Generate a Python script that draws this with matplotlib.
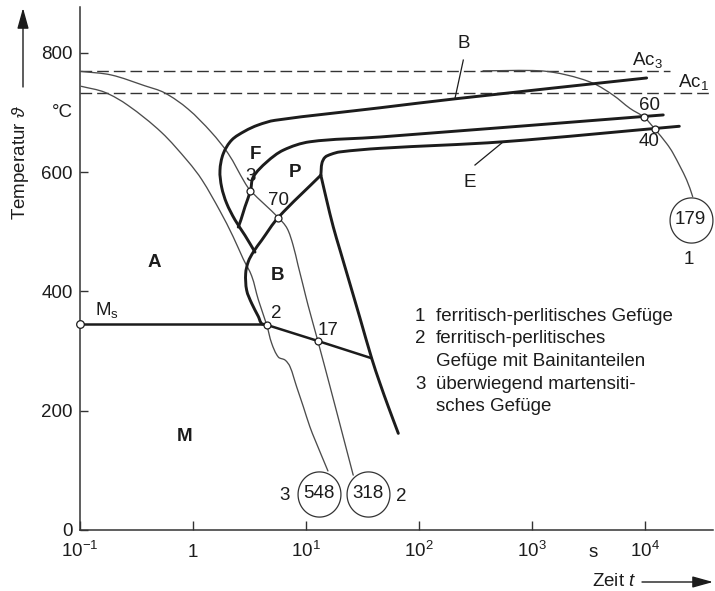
import numpy as np
import matplotlib
matplotlib.use("Agg")
import matplotlib.pyplot as plt
from matplotlib.path import Path
from matplotlib.patches import PathPatch

plt.rcParams["font.family"] = ["Liberation Sans", "DejaVu Sans"]
plt.rcParams["mathtext.fontset"] = "custom"
plt.rcParams["mathtext.rm"] = "Liberation Sans"
plt.rcParams["mathtext.it"] = "Liberation Sans:italic"
plt.rcParams["mathtext.bf"] = "Liberation Sans:bold"
plt.rcParams["font.size"] = 13.5

INK = "#1c1c1c"
THIN = "#4c4c4c"

# Critical temperatures (°C)
ac3_temp = 770
ac1_temp = 732
ms_temp = 345

# Cooling curves: time (s) and temperature (°C)
cool1_time = [367, 1171, 2017, 3467, 5212, 7321, 9797, 12180, 15460, 17580, 23230, 26260]
cool1_temp = [770, 770, 763, 749, 729, 707, 692, 672, 648, 632, 587, 559]

cool2_time = [0.1027, 0.189, 0.373, 0.561, 0.902, 1.45, 2.05, 2.86, 3.22, 5.67,
              6.78, 7.66, 8.48, 9.38, 10.4, 12.7, 16.3, 21.3, 26.1]
cool2_temp = [769, 763, 745, 733, 706, 667, 631, 583, 569, 524,
              506, 478, 444, 411, 377, 317, 240, 156, 92]

cool3_time = [0.1027, 0.1654, 0.266, 0.524, 0.902, 1.20, 1.73, 2.26, 2.77, 3.30, 3.78,
              4.48, 4.96, 5.68, 6.51, 7.20, 8.25, 9.44, 10.8, 12.0, 15.6]
cool3_temp = [744, 734, 712, 667, 618, 587, 535, 492, 455, 426, 386,
              344, 313, 290, 285, 274, 240, 207, 173, 151, 99]

# Transformation lines: time (s) and temperature (°C)
ferrite_start_time = [10280, 207.5, 45.0, 5.31, 3.75, 2.88, 2.20, 1.85, 1.73, 1.79, 1.98, 2.35, 2.88, 3.53]
ferrite_start_temp = [758, 723, 708, 687, 679, 669, 654, 631, 603, 575, 548, 520, 494, 466]

pearlite_start_time = [14420, 45.0, 10.8, 6.29, 4.48, 3.41, 3.22, 2.88, 2.65, 2.51]
pearlite_start_temp = [696, 659, 651, 637, 617, 592, 569, 542, 520, 508]

pearlite_end_time = [20000, 551, 45.0, 19.9, 16.6, 14.7, 13.8, 13.5]
pearlite_end_temp = [677, 651, 640, 634, 630, 625, 615, 595]

bainite_start_time = [13.5, 5.67, 4.05, 3.41, 3.08, 2.92, 2.98, 3.30, 3.78, 4.05, 4.48]
bainite_start_temp = [595, 524, 486, 466, 450, 430, 402, 380, 358, 346, 345]

bainite_bay_time = [13.5, 15.2, 17.4, 19.9, 24.4, 30.0, 38.0, 45.0, 53.3, 65.4]
bainite_bay_temp = [595, 553, 508, 470, 413, 355, 288, 246, 207, 162]

bainite_line_time = [4.48, 12.7, 38.0]
bainite_line_temp = [344, 317, 288]

# Phase fractions (%) where cooling curves cross the lines
pct_time = [3.22, 5.67, 4.48, 12.7, 9797, 12180]
pct_temp = [569, 524, 344, 317, 692, 672]
pct_label = ["3", "70", "2", "17", "60", "40"]
pct_offset = [(0, 14.5), (0, 17), (9.5, 11.5), (10, 10.7), (5.7, 12.3), (-5.7, -12.7)]

# Hardness HV at room temperature for each cooling curve
hardness = [179, 318, 548]
hardness_curve = ["1", "2", "3"]
hardness_time = [25200, 35.5, 13.0]
hardness_temp = [520, 61, 61]

# Region labels
region_label = ["F", "P", "A", "B", "M"]
region_time = [3.53, 7.97, 0.451, 5.61, 0.849]
region_temp = [630, 600, 448, 427, 156]

xtick_vals = [0.1, 1, 10, 100, 1000, 10000]
xtick_lbls = ["$10^{-1}$", "1", "$10^1$", "$10^2$", "$10^3$", "$10^4$"]
ytick_vals = [0, 200, 400, 600, 800]

legend_lines = [("1", "ferritisch-perlitisches Gefüge"),
                ("2", "ferritisch-perlitisches"),
                ("", "Gefüge mit Bainitanteilen"),
                ("3", "überwiegend martensiti-"),
                ("", "sches Gefüge")]

W, H = 715, 591
X_MAX_EXP = 4.599
Y_MAX = 877
fig = plt.figure(figsize=(W / 100, H / 100), dpi=100)
ax = fig.add_axes([80 / W, 61 / H, 633 / W, 523 / H])
ax.set_xscale("log")
ax.set_xlim(0.1, 10 ** X_MAX_EXP)
ax.set_ylim(0, Y_MAX)

# scale factors of the axes box (pixels per decade / per °C)
SX = 633 / (X_MAX_EXP + 1)
SY = 523 / Y_MAX


def smooth_path(times, temps):
    """Bezier path through the given points, built in screen-like space."""
    u = np.log10(np.asarray(times, float)) * SX
    v = np.asarray(temps, float) * SY
    P = np.column_stack([u, v])
    n = len(P)
    tang = np.zeros_like(P)
    for i in range(n):
        a = P[max(i - 1, 0)]
        b = P[min(i + 1, n - 1)]
        d = b - a
        tang[i] = d / np.hypot(*d)
    verts = [P[0]]
    codes = [Path.MOVETO]
    for i in range(n - 1):
        seg = np.hypot(*(P[i + 1] - P[i]))
        c1 = P[i] + tang[i] * seg / 3
        c2 = P[i + 1] - tang[i + 1] * seg / 3
        verts += [c1, c2, P[i + 1]]
        codes += [Path.CURVE4] * 3
    verts = np.array(verts)
    data = np.column_stack([10 ** (verts[:, 0] / SX), verts[:, 1] / SY])
    return Path(data, codes)


def draw_curve(times, temps, **kw):
    patch = PathPatch(smooth_path(times, temps), fill=False, transform=ax.transData, **kw)
    ax.add_patch(patch)


for side in ("top", "right"):
    ax.spines[side].set_visible(False)
for side in ("left", "bottom"):
    ax.spines[side].set_color("#333333")
    ax.spines[side].set_linewidth(1.1)

ax.set_xticks(xtick_vals)
ax.set_xticklabels(xtick_lbls)
ax.xaxis.set_minor_locator(matplotlib.ticker.NullLocator())
ax.set_yticks(ytick_vals)
ax.tick_params(axis="x", direction="in", length=6.5, width=1.0, pad=19.2,
               colors="#333333", labelcolor=INK)
ax.tick_params(axis="y", direction="in", length=6.0, width=1.0, pad=5.3,
               colors="#333333", labelcolor=INK)
for lab in ax.get_xticklabels():
    lab.set_verticalalignment("baseline")

# Ac3 / Ac1 dashed levels
ax.plot([0.1, 16500], [ac3_temp, ac3_temp], color="#333333", lw=1.0,
        dashes=(8.4, 3.6), zorder=2)
ax.plot([0.1, 10 ** X_MAX_EXP], [ac1_temp, ac1_temp], color="#333333", lw=1.0,
        dashes=(8.4, 3.6), zorder=2, clip_on=False)

# Cooling curves
for t, T in ((cool1_time, cool1_temp), (cool2_time, cool2_temp), (cool3_time, cool3_temp)):
    draw_curve(t, T, edgecolor=THIN, lw=0.95, zorder=3, capstyle="round")

# Transformation lines
thick = dict(edgecolor=INK, lw=2.1, zorder=4, capstyle="round", joinstyle="round")
draw_curve(ferrite_start_time, ferrite_start_temp, **thick)
draw_curve(pearlite_start_time, pearlite_start_temp, **thick)
draw_curve(pearlite_end_time, pearlite_end_temp, **thick)
draw_curve(bainite_start_time, bainite_start_temp, **thick)
draw_curve(bainite_bay_time, bainite_bay_temp, **thick)
ax.plot(bainite_line_time, bainite_line_temp, color=INK, lw=1.8, zorder=4,
        solid_capstyle="round")
ax.plot([0.1, bainite_line_time[0]], [ms_temp, ms_temp], color=INK, lw=1.8, zorder=4)

# Crossing points
ax.plot(pct_time, pct_temp, "o", ms=5, mfc="white", mec=INK, mew=0.9, zorder=6)
ax.plot([0.1], [ms_temp], "o", ms=5.5, mfc="white", mec=INK, mew=0.9, zorder=6, clip_on=False)
for t, T, lbl, off in zip(pct_time, pct_temp, pct_label, pct_offset):
    ax.annotate(lbl, (t, T), xytext=off, textcoords="offset pixels",
                ha="center", va="center", color=INK, zorder=7)

# Hardness circles at the end of each cooling curve
theta = np.linspace(0, 2 * np.pi, 120)
for hv, name, t, T in zip(hardness, hardness_curve, hardness_time, hardness_temp):
    mk = Path(np.column_stack([0.95 * np.cos(theta), np.sin(theta)]))
    ax.plot([t], [T], marker=mk, ms=32.5, mfc="white", mec="#333333", mew=0.9,
            ls="none", zorder=8)
    ax.text(t, T, str(hv), ha="center", va="center", color=INK, zorder=9)
    if name == "1":
        off = (-1.7, -40)
    elif name == "2":
        off = (33.4, -3)
    else:
        off = (-34, -1.5)
    ax.annotate(name, (t, T), xytext=off, textcoords="offset pixels",
                ha="center", va="center", color=INK)

# Region labels
for lbl, t, T in zip(region_label, region_time, region_temp):
    ax.text(t, T, lbl, ha="center", va="center", fontweight="bold", color=INK)

# Start / end leaders
ax.text(245.7, 816, "B", ha="center", va="center", color=INK)
ax.plot([245.7, 207.5], [788, 724], color=INK, lw=0.9)
ax.text(281.6, 582, "E", ha="center", va="center", color=INK)
ax.plot([311.6, 554.6], [612, 651], color=INK, lw=0.9)

ax.text(7650, 779.4, "Ac$_3$", ha="left", va="baseline", color=INK)
ax.text(19590, 743, "Ac$_1$", ha="left", va="baseline", color=INK, clip_on=False)
ax.text(0.173, 369, "M$_\\mathrm{s}$", ha="center", va="center", color=INK)

# Legend block
base = [320.7, 343.3, 366.0, 388.6, 411.3]
for (num, txt), yb in zip(legend_lines, base):
    if num:
        fig.text(415 / W, 1 - yb / H, num, ha="left", va="baseline", color=INK)
    fig.text(436 / W, 1 - yb / H, txt, ha="left", va="baseline", color=INK)

# Axis titles with arrows
fig.text(21 / W, 1 - 163 / H, "Temperatur $\\vartheta$", rotation=90,
         ha="center", va="center", color=INK)
fig.text(62 / W, 1 - 113 / H, "°C", ha="center", va="center", color=INK)
ax.annotate("", xy=(23 / W, 1 - 8 / H), xytext=(23 / W, 1 - 87 / H),
            xycoords="figure fraction", textcoords="figure fraction",
            arrowprops=dict(arrowstyle="-|>,head_length=0.9,head_width=0.25",
                            lw=1.0, color=INK, shrinkA=0, shrinkB=0, mutation_scale=14))
fig.text(614 / W, 1 - 582 / H, "Zeit $t$", ha="center", va="center", color=INK)
ax.annotate("", xy=(713 / W, 1 - 582 / H), xytext=(642 / W, 1 - 582 / H),
            xycoords="figure fraction", textcoords="figure fraction",
            arrowprops=dict(arrowstyle="-|>,head_length=0.9,head_width=0.25",
                            lw=1.0, color=INK, shrinkA=0, shrinkB=0, mutation_scale=14))
fig.text(593 / W, 1 - 556.7 / H, "s", ha="center", va="baseline", color=INK)

fig.savefig("out.png", dpi=100, facecolor="white")
